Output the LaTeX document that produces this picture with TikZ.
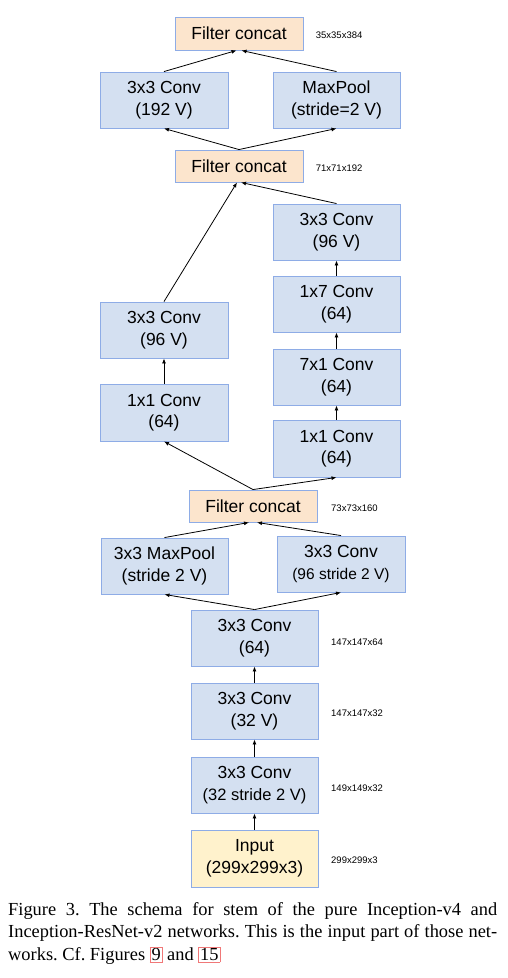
\documentclass[tikz,border=0pt]{standalone}
\usepackage{fontspec}
\setmainfont{Liberation Serif}
\newfontfamily\boxfont{Liberation Sans}
\usetikzlibrary{arrows.meta}
\definecolor{bfill}{RGB}{212,224,241}
\definecolor{bline}{RGB}{142,172,230}
\definecolor{cfill}{RGB}{252,229,205}
\definecolor{ifill}{RGB}{255,242,204}
\definecolor{linkred}{RGB}{240,120,120}
\begin{document}
\begin{tikzpicture}[x=1pt,y=-1pt,
  blk/.style={draw=bline, line width=0.9pt, fill=bfill, minimum width=127pt, minimum height=56pt, inner sep=0pt, align=center, font=\boxfont\fontsize{17.5}{21.5}\selectfont},
  cat/.style={blk, fill=cfill, minimum width=128pt, minimum height=33pt},
  inpbox/.style={blk, fill=ifill},
  dim/.style={anchor=west, inner sep=0pt, font=\boxfont\fontsize{9.5}{11}\selectfont},
  arr/.style={-{Latex[length=5pt,width=4pt]}, line width=0.8pt}]
\fill[white] (0,0) rectangle (508,978);
\useasboundingbox (0,0) rectangle (508,978);

\node[cat] (cat3) at (239,33.5) {Filter concat};
\node[blk, minimum width=128pt] (c192) at (164,100) {3x3 Conv\\(192 V)};
\node[blk] (mp) at (336.5,100) {MaxPool\\(stride=2 V)};
\node[cat, minimum height=32pt] (cat2) at (239,166) {Filter concat};
\node[blk] (r3x3) at (336.5,232) {3x3 Conv\\(96 V)};
\node[blk] (r1x7) at (336.5,304) {1x7 Conv\\(64)};
\node[blk] (r7x1) at (336.5,377) {7x1 Conv\\(64)};
\node[blk, minimum height=57pt] (r1x1) at (336.5,448.5) {1x1 Conv\\(64)};
\node[blk, minimum width=128pt] (l3x3) at (164,330) {3x3 Conv\\(96 V)};
\node[blk, minimum width=128pt, minimum height=57pt] (l1x1) at (164,412.5) {1x1 Conv\\(64)};
\node[cat, minimum height=32pt] (cat1) at (253,506) {Filter concat};
\node[blk] (mp3) at (164.5,566) {3x3 MaxPool\\(stride 2 V)};
\node[blk, minimum width=128pt] (c96s) at (341,564) {3x3 Conv\\{\fontsize{15.5}{19}\selectfont(96 stride 2 V)}};
\node[blk] (c64) at (254.5,638) {3x3 Conv\\(64)};
\node[blk] (c32) at (254.5,711) {3x3 Conv\\(32 V)};
\node[blk] (c32s) at (254.5,785) {3x3 Conv\\{\fontsize{16.5}{20}\selectfont(32 stride 2 V)}};
\node[inpbox, minimum height=57pt] (inp) at (254.5,858.5) {Input\\(299x299x3)};

\node[dim] (d1) at (315.7,35) {35x35x384};
\node[dim] (d2) at (315.7,168) {71x71x192};
\node[dim] (d3) at (331,508) {73x73x160};
\node[dim] (d4) at (331,642) {147x147x64};
\node[dim] (d5) at (331,713) {147x147x32};
\node[dim] (d6) at (331,788) {149x149x32};
\node[dim] (d7) at (331,860) {299x299x3};

\draw[arr] (inp) -- (c32s);
\draw[arr] (c32s) -- (c32);
\draw[arr] (c32) -- (c64);
\draw[arr] (c64.north) -- (mp3.south);
\draw[arr] (c64.north) -- (c96s.south);
\draw[arr] (mp3.north) -- ([xshift=-4pt]cat1.south);
\draw[arr] (c96s.north) -- ([xshift=4pt]cat1.south);
\draw[arr] (cat1.north) -- (l1x1.south);
\draw[arr] (cat1.north) -- (r1x1.south);
\draw[arr] (l1x1) -- (l3x3);
\draw[arr] (r1x1) -- (r7x1);
\draw[arr] (r7x1) -- (r1x7);
\draw[arr] (r1x7) -- (r3x3);
\draw[arr] (l3x3.north) -- ([xshift=-2pt]cat2.south);
\draw[arr] (r3x3.north) -- ([xshift=2pt]cat2.south);
\draw[arr] (cat2.north) -- (c192.south);
\draw[arr] (cat2.north) -- (mp.south);
\draw[arr] (c192.north) -- ([xshift=-2.5pt]cat3.south);
\draw[arr] (mp.north) -- ([xshift=2.5pt]cat3.south);

\node[anchor=north west, inner sep=0pt, text width=489pt, align=justify,
  font=\fontsize{18.4}{22.8}\selectfont] (cap) at (8,899)
  {\frenchspacing\setlength\fboxsep{1pt}\setlength\fboxrule{0.8pt}\strut Figure 3. The schema for stem of the pure Inception-v4 and\linebreak
   Inception-ResNet-v2 networks. This is the input part of those net-\linebreak
   works. Cf. Figures \fcolorbox{linkred}{white}{9} and \fcolorbox{linkred}{white}{15}};
\end{tikzpicture}
\end{document}
